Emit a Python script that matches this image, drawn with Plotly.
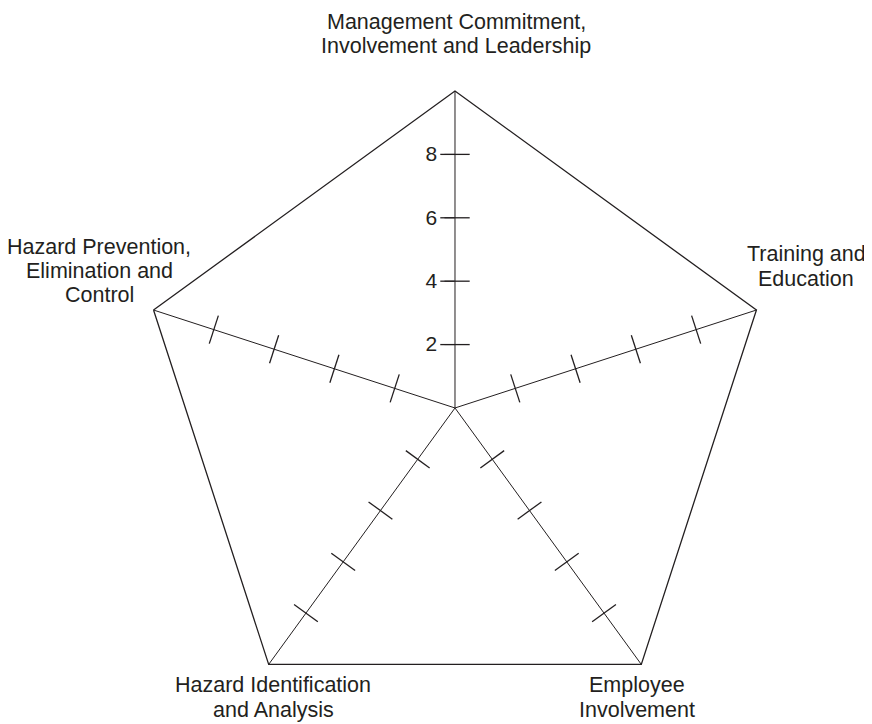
import plotly.graph_objects as go

# axes of the radar, clockwise from the top
categories = [
    "Management Commitment,<br>Involvement and Leadership",
    "Training and<br>Education",
    "Employee<br>Involvement",
    "Hazard Identification<br>and Analysis",
    "Hazard Prevention,<br>Elimination and<br>Control",
]
radial_ticks = [2, 4, 6, 8]
radial_max = 10

INK = "#231f20"
W, H = 872, 724
OFF = 8  # page body margin, pictures are measured from the window corner

fig = go.Figure()

# cross ticks on each spoke (line symbol turned square to its spoke)
for i, cat in enumerate(categories):
    fig.add_trace(go.Scatterpolar(
        r=radial_ticks,
        theta=[cat] * len(radial_ticks),
        mode="markers",
        marker=dict(symbol="line-ew", size=21, angle=72 * i,
                    line=dict(color=INK, width=1.3)),
        hoverinfo="skip",
        showlegend=False,
    ))

fig.update_layout(
    width=W,
    height=H,
    margin=dict(l=0, r=0, t=0, b=0),
    paper_bgcolor="white",
    font=dict(family="Liberation Sans, Arial, sans-serif", size=21, color=INK),
    showlegend=False,
    polar=dict(
        domain=dict(x=[0.1491, 0.8761], y=[0.0097, 0.8854]),
        gridshape="linear",
        bgcolor="white",
        angularaxis=dict(
            categoryorder="array",
            categoryarray=categories,
            direction="clockwise",
            rotation=90,
            showline=True,
            linecolor=INK,
            linewidth=1.3,
            showgrid=True,
            gridcolor=INK,
            gridwidth=1.3,
            showticklabels=False,
            ticks="",
        ),
        radialaxis=dict(
            range=[0, radial_max],
            angle=90,
            side="counterclockwise",
            tickvals=radial_ticks,
            ticks="outside",
            ticklen=10,
            tickcolor=INK,
            tickwidth=1.3,
            tickangle=90,
            tickfont=dict(size=21, color=INK),
            showline=False,
            showgrid=False,
        ),
    ),
)

# category labels placed around the pentagon, one annotation per line
label_pos = [
    (456, [22, 46]),
    (806, [254, 279]),
    (637, [685, 710]),
    (273, [685, 710]),
    (99, [247, 271, 295]),
]
for cat, (px, rows) in zip(categories, label_pos):
    for line, py in zip(cat.split("<br>"), rows):
        fig.add_annotation(
            text=line, x=(px - OFF) / W, y=1 - (py - OFF) / H,
            xref="paper", yref="paper", showarrow=False,
            xanchor="center", yanchor="middle",
            font=dict(size=21.5, color=INK),
        )

fig.write_html("out.html")
